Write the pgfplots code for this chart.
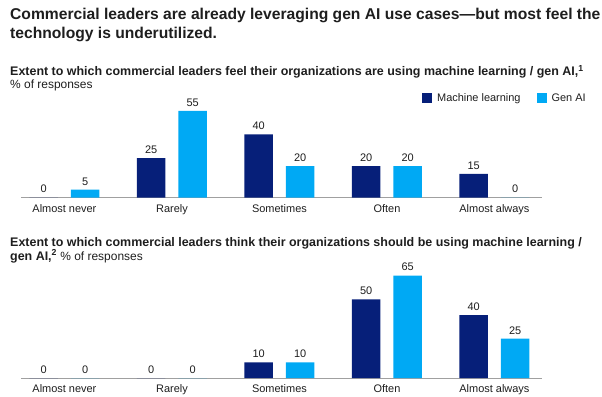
\documentclass[border=0pt]{standalone}
\usepackage{pgfplots}
\pgfplotsset{compat=1.18}
\usepackage{fontspec}
\setmainfont{Liberation Sans}
\definecolor{ml}{HTML}{061F79}
\definecolor{gai}{HTML}{00A9F4}
\definecolor{txt}{HTML}{1E1E1E}
\definecolor{axl}{HTML}{A0A0A0}
\pgfplotsset{
  panel/.style={
    scale only axis,
    x=107.5bp, y=1.575bp,
    xmin=-0.405, xmax=4.44, ymin=0,
    axis x line=bottom, axis y line=none,
    x axis line style={-, draw=axl, line width=0.8bp},
    xtick={0,1,2,3,4},
    xticklabels={Almost never,Rarely,Sometimes,Often,Almost always},
    major tick length=0pt,
    xticklabel style={font=\fontsize{11}{13}\selectfont, text=txt, yshift=-3.5bp},
    ybar, bar width=28.5bp,
    clip=false,
    /pgf/number format/assume math mode=true,
    nodes near coords,
    every node near coord/.append style={font=\fontsize{11}{13}\selectfont, text=txt, yshift=1bp},
  },
}
\begin{document}
\begin{tikzpicture}
\useasboundingbox (0,0) rectangle (602bp,-397bp);
\node[anchor=base west, inner sep=0, text=txt, font=\bfseries\fontsize{15.7}{18}\selectfont] at (10bp,-19bp) {Commercial leaders are already leveraging gen AI use cases---but most feel the};
\node[anchor=base west, inner sep=0, text=txt, font=\bfseries\fontsize{15.7}{18}\selectfont] at (10bp,-38bp) {technology is underutilized.};
\node[anchor=base west, inner sep=0, text=txt, font=\bfseries\fontsize{12.5}{14}\selectfont] at (10bp,-75.5bp) {Extent to which commercial leaders feel their organizations are using machine learning / gen AI,\textsuperscript{1}};
\node[anchor=base west, inner sep=0, text=txt, font=\fontsize{12}{14}\selectfont] at (10bp,-88.5bp) {\% of responses};
\node[anchor=base west, inner sep=0, text=txt, font=\bfseries\fontsize{12.5}{14}\selectfont] at (10bp,-246.5bp) {Extent to which commercial leaders think their organizations should be using machine learning /};
\node[anchor=base west, inner sep=0, text=txt, font=\fontsize{12}{14}\selectfont] at (10bp,-260bp) {\textbf{\fontsize{12.5}{14}\selectfont gen AI,\textsuperscript{2}} \% of responses};

\begin{axis}[panel, at={(20.9bp,-197.5bp)}, anchor=south west, ymax=60,
  legend columns=2,
  legend style={at={(0.770,1.053)}, anchor=west, draw=none, fill=none, inner sep=0pt,
    font=\fontsize{11}{13}\selectfont, text=txt,
    /tikz/every even column/.append style={column sep=16bp},
    nodes={inner sep=0pt, text depth=0pt}},
  legend image code/.code={\fill[#1] (0bp,-5bp) rectangle (10bp,5bp);},
  legend cell align=left,
]
\addplot[fill=ml, draw=none, bar shift=-20.75bp] coordinates {(0,0) (1,25) (2,40) (3,20) (4,15)};
\addlegendentry{\hspace{5bp}Machine learning}
\addplot[fill=gai, draw=none, bar shift=20.75bp] coordinates {(0,5) (1,55) (2,20) (3,20) (4,0)};
\addlegendentry{\hspace{5bp}Gen AI}
\end{axis}

\begin{axis}[panel, at={(20.9bp,-378bp)}, anchor=south west, ymax=70]
\addplot[fill=ml, draw=none, bar shift=-20.75bp] coordinates {(0,0) (1,0) (2,10) (3,50) (4,40)};
\addplot[fill=gai, draw=none, bar shift=20.75bp] coordinates {(0,0) (1,0) (2,10) (3,65) (4,25)};
\end{axis}
\end{tikzpicture}
\end{document}
